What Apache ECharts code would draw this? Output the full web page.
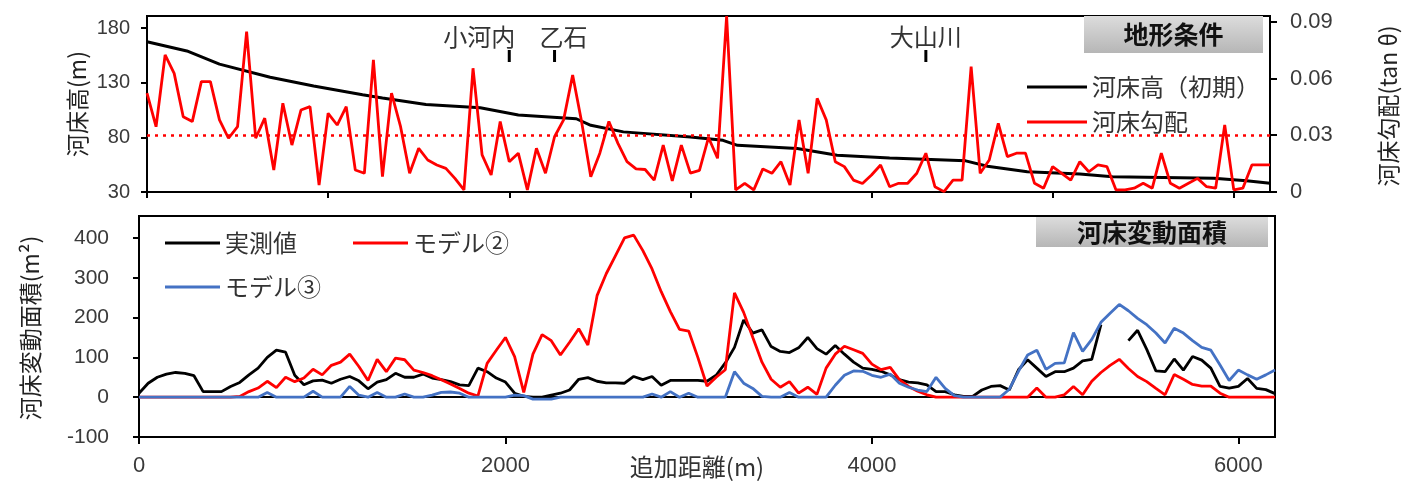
<!DOCTYPE html>
<html>
<head>
<meta charset="utf-8">
<script src="https://cdn.jsdelivr.net/npm/echarts@6/dist/echarts.min.js"></script>
<style>
  html, body { margin: 0; padding: 0; background: #fff; }
  #chart { width: 1402px; height: 481px; }
</style>
</head>
<body>
<div id="chart"></div>
<script>
// Survey stations along the channel (m)
const stations = [
  0, 50, 100, 150, 200, 250, 300, 350, 400, 450,
  500, 550, 600, 650, 700, 750, 800, 850, 900, 950,
  1000, 1050, 1100, 1150, 1200, 1250, 1300, 1350, 1400, 1450,
  1500, 1550, 1600, 1650, 1700, 1750, 1800, 1850, 1900, 1950,
  2000, 2050, 2100, 2150, 2200, 2250, 2300, 2350, 2400, 2450,
  2500, 2550, 2600, 2650, 2700, 2750, 2800, 2850, 2900, 2950,
  3000, 3050, 3100, 3150, 3200, 3250, 3300, 3350, 3400, 3450,
  3500, 3550, 3600, 3650, 3700, 3750, 3800, 3850, 3900, 3950,
  4000, 4050, 4100, 4150, 4200, 4250, 4300, 4350, 4400, 4450,
  4500, 4550, 4600, 4650, 4700, 4750, 4800, 4850, 4900, 4950,
  5000, 5050, 5100, 5150, 5200, 5250, 5300, 5350, 5400, 5450,
  5500, 5550, 5600, 5650, 5700, 5750, 5800, 5850, 5900, 5950,
  6000, 6050, 6100, 6150, 6200
];

// Initial bed elevation (m)
const elevDist = [0, 220, 400, 680, 920, 1190, 1300, 1540, 1840, 2050, 2370, 2450, 2630,
  3000, 3180, 3260, 3590, 3810, 4100, 4520, 4640, 4860, 5150, 5330, 5890, 6070, 6200];
const elevation = [167.5, 159, 147, 135, 127, 119, 116, 110, 107, 100.5, 97, 91, 85,
  80.3, 77.3, 72.7, 69.7, 63.6, 61, 58.5, 53.6, 48.5, 46.4, 43.9, 42.5, 40.3, 37.9];

// Bed slope (tan θ) at each station
const bedSlope = [
  0.0522, 0.0345, 0.0724, 0.0627, 0.0398, 0.0372, 0.0583, 0.0583, 0.0381, 0.0284,
  0.0345, 0.0847, 0.0284, 0.0390, 0.0116, 0.0469, 0.0248, 0.0433, 0.0451, 0.0037,
  0.0416, 0.0354, 0.0451, 0.0116, 0.0099, 0.0698, 0.0081, 0.0522, 0.0345, 0.0099,
  0.0231, 0.0169, 0.0143, 0.0125, 0.0072, 0.0011, 0.0654, 0.0196, 0.0090, 0.0372,
  0.0160, 0.0205, 0.0011, 0.0231, 0.0099, 0.0292, 0.0381, 0.0618, 0.0368, 0.0081,
  0.0205, 0.0373, 0.0257, 0.0160, 0.0122, 0.0119, 0.0063, 0.0248, 0.0058, 0.0248,
  0.0100, 0.0114, 0.0288, 0.0178, 0.0930, 0.0011, 0.0046, 0.0011, 0.0122, 0.0099,
  0.0160, 0.0037, 0.0381, 0.0099, 0.0495, 0.0381, 0.0160, 0.0134, 0.0063, 0.0045,
  0.0090, 0.0143, 0.0028, 0.0046, 0.0046, 0.0099, 0.0205, 0.0028, 0.0002, 0.0063,
  0.0063, 0.0662, 0.0099, 0.0169, 0.0363, 0.0187, 0.0205, 0.0205, 0.0046, 0.0020,
  0.0134, 0.0099, 0.0063, 0.0160, 0.0107, 0.0143, 0.0134, 0.0011, 0.0011, 0.0020,
  0.0046, 0.0020, 0.0205, 0.0046, 0.0020, 0.0046, 0.0072, 0.0028, 0.0020, 0.0354,
  0.0011, 0.0020, 0.0143, 0.0143, 0.0143
];
const slopeReference = 0.03;

// Bed variation area (m²): observed, model 2, model 3
const observed = [
  10, 35, 50, 58, 62, 60, 54, 14, 14, 14,
  27, 37, 56, 73, 100, 118, 113, 55, 31, 41,
  43, 35, 45, 52, 41, 21, 38, 44, 60, 50,
  50, 58, 48, 44, 39, 31, 29, 73, 64, 48,
  38, 10, 2, 0, 0, 5, 10, 18, 45, 49,
  40, 36, 36, 35, 52, 44, 52, 30, 42, 42,
  42, 42, 40, 55, 86, 125, 194, 161, 169, 127,
  115, 112, 124, 150, 122, 108, 130, 108, 88, 73,
  70, 65, 56, 44, 38, 36, 31, 14, 14, 6,
  2, 2, 18, 27, 29, 18, 69, 94, 73, 52,
  64, 64, 73, 91, 95, 182, null, null, 142, 168,
  120, 66, 64, 96, 68, 102, 93, 73, 27, 23,
  27, 47, 22, 19, 9
];
const model2 = [
  0, 0, 0, 0, 0, 0, 0, 0, 0, 0,
  0, 2, 14, 23, 40, 24, 50, 39, 48, 70,
  56, 80, 88, 108, 77, 42, 95, 64, 98, 94,
  68, 62, 54, 44, 33, 22, 10, 3, 85, 118,
  150, 102, 12, 108, 157, 142, 106, 138, 172, 131,
  255, 310, 355, 400, 407, 368, 322, 265, 215, 170,
  166, 100, 28, 50, 69, 262, 213, 150, 88, 45,
  25, 39, 10, 25, 7, 73, 108, 128, 119, 110,
  83, 69, 75, 44, 27, 15, 6, 0, 0, 0,
  0, 0, 0, 0, 0, 0, 0, 0, 23, 0,
  0, 6, 27, 6, 40, 62, 80, 95, 72, 52,
  39, 22, 6, 57, 45, 32, 28, 28, 10, 0,
  0, 0, 0, 0, 0
];
const model3 = [
  0, 0, 0, 0, 0, 0, 0, 0, 0, 0,
  0, 0, 0, 0, 12, 0, 0, 0, 0, 15,
  0, 0, 0, 27, 5, 0, 12, 0, 0, 8,
  0, 0, 5, 12, 13, 10, 0, 0, 0, 0,
  0, 5, 4, -5, -5, -5, 0, 0, 0, 0,
  0, 0, 0, 0, 0, 0, 8, 0, 14, 0,
  10, 0, 0, 0, 0, 64, 35, 22, 2, 0,
  0, 12, 0, 0, 0, 0, 30, 55, 66, 65,
  55, 50, 58, 35, 25, 18, 14, 50, 22, 4,
  0, 0, 0, 0, 0, 20, 65, 106, 118, 70,
  85, 86, 162, 115, 145, 188, 211, 233, 217, 198,
  182, 161, 136, 173, 161, 142, 125, 118, 81, 42,
  68, 56, 45, 56, 68
];

// Tributary confluences
const tribNames = ['小河内', '乙石', '大山川'];
const tribDist = [2000, 2250, 4300];

// Tick labels
const topElevTicks = [30, 80, 130, 180];
const topSlopeTicks = [0, 0.03, 0.06, 0.09];
const topDistTicks = [0, 1000, 2000, 3000, 4000, 5000, 6000];
const areaTicks = [-100, 0, 100, 200, 300, 400];
const distTicks = [0, 2000, 4000, 6000];

const CJK = '"Noto Sans CJK JP", sans-serif';
const NUM = '"Liberation Sans", Arial, sans-serif';
const LABEL = '#3a3a3a';
const AXIS = { color: '#000', width: 2 };

const pair = (xs, ys) => xs.map((x, i) => [x, ys[i]]);
const plain = v => String(v);
const tribLabelShift = [-30, 9, 0];

const chart = echarts.init(document.getElementById('chart'), null, { renderer: 'canvas' });

chart.setOption({
  animation: false,
  backgroundColor: '#fff',
  grid: [
    { left: 147, top: 16, width: 1123, height: 176, show: true, borderColor: '#000', borderWidth: 2 },
    { left: 139, top: 216, width: 1136, height: 221, show: true, borderColor: '#000', borderWidth: 2 }
  ],
  xAxis: [
    {
      gridIndex: 0, type: 'value', min: 0, max: 6200,
      axisLine: { lineStyle: AXIS },
      axisTick: { length: 6, lineStyle: AXIS, customValues: topDistTicks },
      axisLabel: { show: false },
      splitLine: { show: false }
    },
    {
      gridIndex: 1, type: 'value', min: 0, max: 6200,
      axisLine: { onZero: false, lineStyle: AXIS },
      axisTick: { length: 7, lineStyle: AXIS, customValues: distTicks },
      axisLabel: { customValues: distTicks, fontSize: 22, color: LABEL, fontFamily: NUM, margin: 18, formatter: plain },
      splitLine: { show: false }
    },
    {
      // horizontal line through zero
      gridIndex: 1, type: 'value', min: 0, max: 6200, position: 'bottom',
      axisLine: { onZero: true, lineStyle: AXIS },
      axisTick: { show: false },
      axisLabel: { show: false },
      splitLine: { show: false }
    }
  ],
  yAxis: [
    {
      gridIndex: 0, type: 'value', min: 30, max: 191, position: 'left',
      axisLine: { show: true, lineStyle: AXIS },
      axisTick: { show: true, length: 6, lineStyle: AXIS, customValues: topElevTicks },
      axisLabel: { customValues: topElevTicks, fontSize: 20, color: LABEL, fontFamily: NUM, margin: 17, formatter: plain },
      splitLine: { show: false }
    },
    {
      gridIndex: 0, type: 'value', min: 0, max: 0.093, position: 'right',
      axisLine: { show: true, lineStyle: AXIS },
      axisTick: { show: true, length: 7, lineStyle: AXIS, customValues: topSlopeTicks },
      axisLabel: {
        customValues: topSlopeTicks, fontSize: 22, color: LABEL, fontFamily: NUM, margin: 20,
        formatter: v => (v === 0 ? '0' : v.toFixed(2))
      },
      splitLine: { show: false }
    },
    {
      gridIndex: 1, type: 'value', min: -100, max: 455,
      axisLine: { show: true, lineStyle: AXIS },
      axisTick: { show: true, length: 6, lineStyle: AXIS, customValues: areaTicks },
      axisLabel: { customValues: areaTicks, fontSize: 21, color: LABEL, fontFamily: NUM, margin: 30, formatter: plain },
      splitLine: { show: false }
    }
  ],
  legend: [
    {
      orient: 'vertical', left: 1027, top: 75, padding: 0, itemGap: 11,
      icon: 'rect', itemWidth: 60, itemHeight: 3,
      data: ['河床高（初期）', '河床勾配'],
      textStyle: { fontSize: 24, color: '#333', fontFamily: CJK }
    },
    {
      left: 165, top: 231, padding: 0, icon: 'rect', itemWidth: 55, itemHeight: 3,
      data: ['実測値'], textStyle: { fontSize: 24, color: '#333', fontFamily: CJK }
    },
    {
      left: 353, top: 231, padding: 0, icon: 'rect', itemWidth: 55, itemHeight: 3,
      data: ['モデル②'], textStyle: { fontSize: 24, color: '#333', fontFamily: CJK }
    },
    {
      left: 165, top: 275, padding: 0, icon: 'rect', itemWidth: 55, itemHeight: 3,
      data: ['モデル③'], textStyle: { fontSize: 24, color: '#333', fontFamily: CJK }
    }
  ],
  series: [
    {
      name: '河床高（初期）', type: 'line', xAxisIndex: 0, yAxisIndex: 0,
      data: pair(elevDist, elevation), showSymbol: false, color: '#000',
      lineStyle: { color: '#000', width: 3 },
      markPoint: {
        symbol: 'rect', symbolSize: [3, 12], itemStyle: { color: '#000' },
        label: {
          show: true, position: 'top', distance: 1, fontSize: 24, color: '#333', fontFamily: CJK,
          formatter: p => p.name
        },
        data: tribNames.map((n, i) => ({
          name: n, coord: [tribDist[i], 154.4],
          label: { offset: [tribLabelShift[i], 0] }
        }))
      }
    },
    {
      name: '河床勾配', type: 'line', xAxisIndex: 0, yAxisIndex: 1,
      data: pair(stations, bedSlope), showSymbol: false, color: '#ff0000',
      lineStyle: { color: '#ff0000', width: 2.8 },
      markLine: {
        silent: true, symbol: 'none', label: { show: false },
        lineStyle: { color: '#ff0000', width: 2.5, type: [3, 5] },
        data: [{ yAxis: slopeReference }]
      }
    },
    {
      name: '実測値', type: 'line', xAxisIndex: 1, yAxisIndex: 2,
      data: pair(stations, observed), showSymbol: false, color: '#000',
      lineStyle: { color: '#000', width: 2.8 }
    },
    {
      name: 'モデル②', type: 'line', xAxisIndex: 1, yAxisIndex: 2,
      data: pair(stations, model2), showSymbol: false, color: '#ff0000',
      lineStyle: { color: '#ff0000', width: 2.8 }
    },
    {
      name: 'モデル③', type: 'line', xAxisIndex: 1, yAxisIndex: 2,
      data: pair(stations, model3), showSymbol: false, color: '#4472c4',
      lineStyle: { color: '#4472c4', width: 2.8 }
    }
  ],
  graphic: [
    {
      type: 'group', left: 1084, top: 16,
      children: [
        {
          type: 'rect', shape: { x: 0, y: 0, width: 179, height: 37 },
          style: {
            fill: new echarts.graphic.LinearGradient(0, 0, 0, 1, [
              { offset: 0, color: '#dcdcdc' }, { offset: 1, color: '#b6b6b6' }
            ])
          }
        },
        {
          type: 'text', x: 89.5, y: 18.5,
          style: { text: '地形条件', fontSize: 25, fontWeight: 'bold', fill: '#111', fontFamily: CJK, align: 'center', verticalAlign: 'middle' }
        }
      ]
    },
    {
      type: 'group', left: 1036, top: 217,
      children: [
        {
          type: 'rect', shape: { x: 0, y: 0, width: 232, height: 30 },
          style: {
            fill: new echarts.graphic.LinearGradient(0, 0, 0, 1, [
              { offset: 0, color: '#dcdcdc' }, { offset: 1, color: '#b6b6b6' }
            ])
          }
        },
        {
          type: 'text', x: 116, y: 15,
          style: { text: '河床変動面積', fontSize: 25, fontWeight: 'bold', fill: '#111', fontFamily: CJK, align: 'center', verticalAlign: 'middle' }
        }
      ]
    },
    {
      type: 'text', x: 77, y: 104, rotation: Math.PI / 2,
      style: { text: '河床高(m)', fontSize: 23, fill: '#222', fontFamily: CJK, align: 'center', verticalAlign: 'middle' }
    },
    {
      type: 'text', x: 1388, y: 106, rotation: Math.PI / 2,
      style: { text: '河床勾配(tan θ)', fontSize: 23, fill: '#222', fontFamily: CJK, align: 'center', verticalAlign: 'middle' }
    },
    {
      type: 'text', x: 30, y: 328, rotation: Math.PI / 2,
      style: { text: '河床変動面積(m²)', fontSize: 23, fill: '#222', fontFamily: CJK, align: 'center', verticalAlign: 'middle' }
    },
    {
      type: 'text', x: 697, y: 467,
      style: { text: '追加距離(m)', fontSize: 24, fill: '#333', fontFamily: CJK, align: 'center', verticalAlign: 'middle' }
    }
  ]
});
</script>
</body>
</html>
